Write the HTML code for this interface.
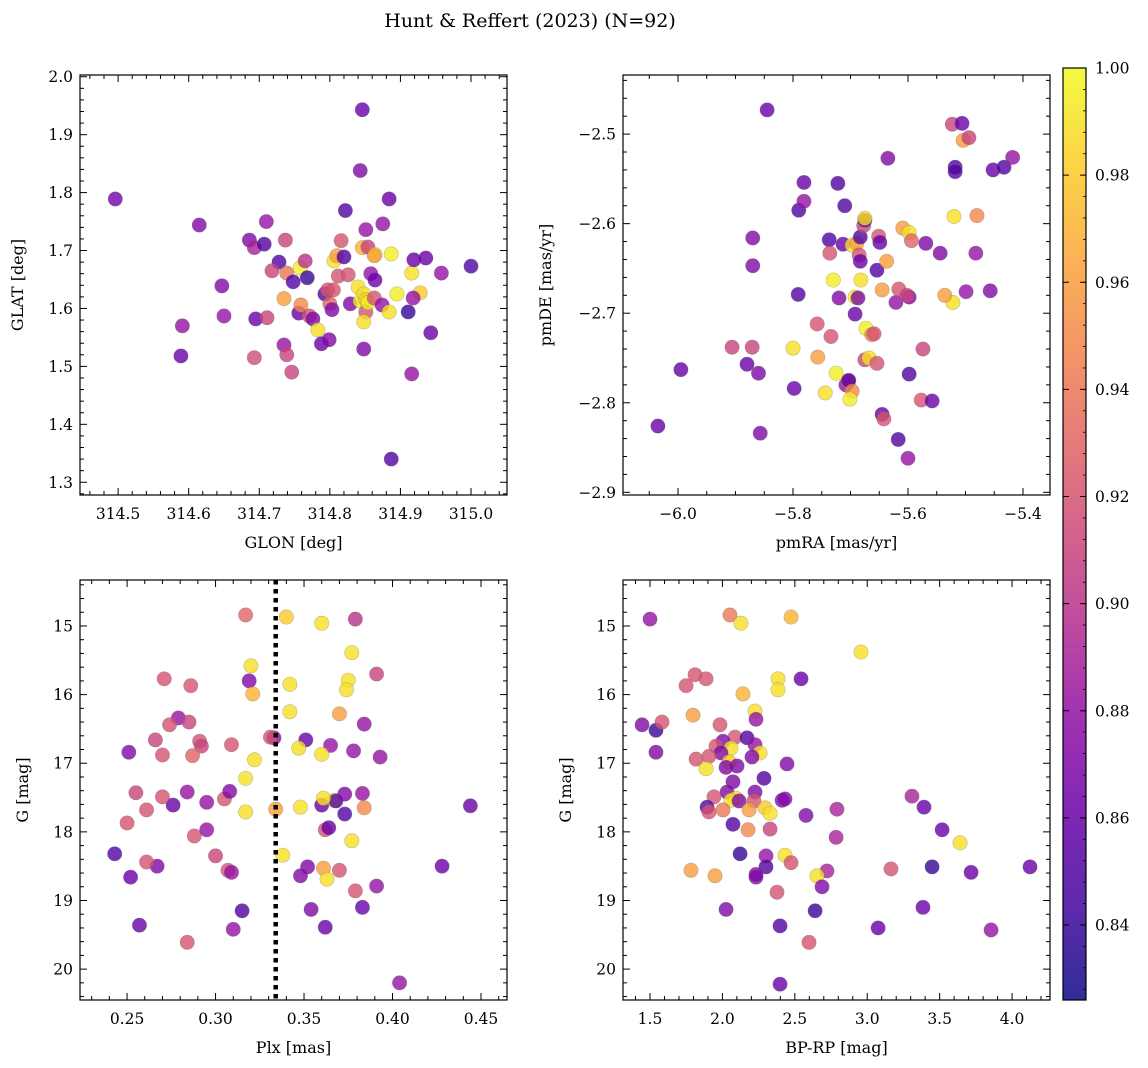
<!DOCTYPE html>
<html><head><meta charset="utf-8">
<style>
html,body{margin:0;padding:0;background:#fff;}
svg{display:block;font-family:"DejaVu Serif","Liberation Serif",serif;}
</style></head>
<body>
<svg id="fig" width="1148" height="1068" viewBox="0 0 1148 1068" xmlns="http://www.w3.org/2000/svg">
<defs>
<linearGradient id="plasma" x1="0" y1="1" x2="0" y2="0">
<stop offset="0" stop-color="#0d0887"/><stop offset="0.1" stop-color="#41049d"/><stop offset="0.2" stop-color="#6a00a8"/><stop offset="0.3" stop-color="#8f0da4"/><stop offset="0.4" stop-color="#b12a90"/><stop offset="0.5" stop-color="#cc4778"/><stop offset="0.6" stop-color="#e16462"/><stop offset="0.7" stop-color="#f2844b"/><stop offset="0.8" stop-color="#fca636"/><stop offset="0.9" stop-color="#fcce25"/><stop offset="1" stop-color="#f0f921"/>
</linearGradient>
</defs>
<text x="530" y="27" font-size="19" text-anchor="middle">Hunt &amp; Reffert (2023) (N=92)</text>
</svg>
<script>
// ---- Panel 1: GLON vs GLAT ----
const p1Lon=[314.496,314.615,314.647,314.650,314.591,314.589,314.686,314.710,314.693,314.707,314.728,314.718,314.737,314.739,314.735,314.695,314.693,314.711,314.735,314.739,314.746,314.748,314.758,314.765,314.756,314.759,314.768,314.771,314.776,314.783,314.788,314.799,314.793,314.797,314.800,314.806,314.810,314.812,314.805,314.803,314.820,314.816,314.822,314.826,314.829,314.840,314.846,314.843,314.848,314.851,314.851,314.848,314.854,314.846,314.843,314.851,314.854,314.864,314.858,314.864,314.863,314.863,314.848,314.875,314.874,314.884,314.887,314.887,314.884,314.895,314.911,314.916,314.919,314.928,314.918,314.916,314.936,314.943,314.958,315.000];
const p1Lat=[1.789,1.744,1.639,1.587,1.570,1.518,1.718,1.750,1.705,1.711,1.680,1.665,1.718,1.661,1.617,1.582,1.515,1.584,1.537,1.520,1.490,1.646,1.670,1.682,1.592,1.606,1.653,1.587,1.582,1.563,1.539,1.546,1.625,1.632,1.608,1.682,1.691,1.656,1.632,1.598,1.689,1.717,1.769,1.658,1.608,1.637,1.705,1.613,1.625,1.615,1.594,1.577,1.610,1.943,1.838,1.736,1.706,1.693,1.660,1.649,1.618,1.691,1.530,1.746,1.606,1.789,1.694,1.340,1.594,1.625,1.594,1.661,1.684,1.627,1.618,1.487,1.687,1.558,1.661,1.673];
const p1Prob=[.865,.87,.87,.88,.88,.86,.87,.88,.89,.85,.85,.91,.91,.94,.96,.86,.915,.91,.88,.91,.91,.85,.995,.90,.86,.95,.84,.92,.87,.99,.86,.87,.85,.92,.93,.99,.96,.92,.92,.87,.85,.92,.85,.92,.87,.99,.97,.995,.99,.98,.92,.99,.995,.86,.87,.88,.91,.99,.88,.86,.92,.96,.87,.88,.88,.86,.995,.85,.99,.995,.84,.99,.86,.98,.88,.88,.86,.86,.88,.85];
// ---- Panel 2: pmRA vs pmDE ----
const p2RA=[-5.845,-6.035,-5.995,-5.906,-5.871,-5.870,-5.870,-5.860,-5.880,-5.857,-5.800,-5.798,-5.781,-5.790,-5.781,-5.791,-5.758,-5.757,-5.744,-5.737,-5.736,-5.734,-5.730,-5.722,-5.725,-5.720,-5.713,-5.710,-5.708,-5.704,-5.703,-5.697,-5.701,-5.692,-5.692,-5.697,-5.689,-5.683,-5.685,-5.683,-5.682,-5.687,-5.677,-5.675,-5.675,-5.675,-5.668,-5.673,-5.663,-5.659,-5.654,-5.654,-5.651,-5.649,-5.645,-5.645,-5.642,-5.635,-5.637,-5.621,-5.617,-5.616,-5.609,-5.598,-5.598,-5.594,-5.602,-5.600,-5.598,-5.569,-5.577,-5.574,-5.544,-5.558,-5.523,-5.520,-5.518,-5.518,-5.522,-5.536,-5.506,-5.504,-5.494,-5.499,-5.480,-5.482,-5.452,-5.457,-5.433,-5.418];
const p2DE=[-2.473,-2.826,-2.763,-2.738,-2.738,-2.616,-2.647,-2.767,-2.757,-2.834,-2.739,-2.784,-2.554,-2.585,-2.575,-2.679,-2.712,-2.749,-2.789,-2.618,-2.633,-2.726,-2.663,-2.555,-2.767,-2.683,-2.623,-2.580,-2.780,-2.776,-2.775,-2.787,-2.796,-2.682,-2.701,-2.624,-2.622,-2.615,-2.635,-2.642,-2.663,-2.683,-2.602,-2.596,-2.594,-2.752,-2.750,-2.717,-2.724,-2.723,-2.756,-2.652,-2.614,-2.621,-2.674,-2.813,-2.818,-2.527,-2.642,-2.688,-2.841,-2.673,-2.605,-2.682,-2.610,-2.619,-2.680,-2.862,-2.768,-2.622,-2.797,-2.740,-2.633,-2.798,-2.489,-2.592,-2.537,-2.542,-2.688,-2.680,-2.488,-2.507,-2.504,-2.676,-2.591,-2.633,-2.540,-2.675,-2.537,-2.526];
const p2Prob=[.86,.86,.86,.91,.91,.87,.87,.87,.86,.87,.99,.86,.86,.85,.88,.85,.92,.96,.99,.85,.92,.92,.995,.85,.995,.87,.86,.85,.88,.92,.85,.95,.995,.995,.86,.99,.96,.85,.92,.86,.99,.87,.91,.85,.99,.91,.99,.995,.95,.92,.92,.85,.92,.86,.96,.86,.92,.87,.96,.88,.85,.92,.96,.87,.99,.93,.91,.88,.85,.87,.92,.91,.87,.86,.91,.99,.85,.85,.99,.96,.86,.96,.91,.88,.95,.88,.86,.87,.85,.88];
// ---- Panel 3: Plx vs G ----
const p3Plx=[0.317,0.340,0.360,0.379,0.320,0.319,0.321,0.271,0.286,0.377,0.375,0.374,0.391,0.342,0.342,0.370,0.279,0.274,0.285,0.384,0.333,0.331,0.351,0.347,0.309,0.291,0.292,0.266,0.251,0.270,0.287,0.365,0.360,0.378,0.393,0.322,0.255,0.284,0.276,0.270,0.261,0.295,0.305,0.317,0.317,0.308,0.334,0.348,0.360,0.367,0.368,0.361,0.373,0.383,0.373,0.384,0.362,0.364,0.377,0.288,0.295,0.250,0.338,0.352,0.348,0.361,0.363,0.370,0.391,0.379,0.383,0.354,0.243,0.252,0.267,0.261,0.300,0.307,0.309,0.428,0.315,0.310,0.257,0.284,0.362,0.404,0.444];
const p3G=[14.84,14.87,14.96,14.90,15.58,15.80,15.99,15.77,15.87,15.39,15.79,15.93,15.70,15.85,16.25,16.28,16.34,16.44,16.40,16.43,16.63,16.62,16.66,16.78,16.73,16.68,16.75,16.66,16.84,16.88,16.89,16.74,16.87,16.82,16.91,16.95,17.43,17.42,17.61,17.49,17.68,17.57,17.52,17.22,17.71,17.41,17.67,17.64,17.61,17.54,17.55,17.51,17.45,17.44,17.74,17.65,17.97,17.94,18.13,18.06,17.97,17.87,18.34,18.51,18.64,18.53,18.69,18.56,18.79,18.86,19.10,19.13,18.32,18.66,18.50,18.44,18.35,18.56,18.59,18.50,19.15,19.42,19.36,19.61,19.39,20.20,17.62];
const p3Prob=[.93,.98,.99,.90,.99,.87,.97,.92,.92,.99,.99,.99,.91,.99,.99,.96,.88,.92,.91,.88,.87,.92,.86,.99,.92,.92,.91,.91,.87,.92,.93,.88,.99,.88,.88,.99,.91,.88,.86,.92,.92,.88,.92,.99,.99,.87,.96,.99,.86,.99,.85,.99,.87,.88,.85,.95,.92,.86,.99,.92,.88,.92,.99,.87,.87,.96,.99,.92,.88,.92,.86,.87,.85,.86,.87,.92,.91,.92,.88,.86,.85,.88,.86,.92,.86,.88,.86];
const p3Cut=[0.334];
// ---- Panel 4: BP-RP vs G ----
const p4Col=[1.500,2.052,2.128,2.474,1.811,1.749,1.887,2.384,2.384,2.543,2.142,2.225,2.232,1.445,1.541,1.583,1.797,1.541,1.983,2.087,2.170,2.004,1.956,2.059,2.225,2.260,2.204,1.990,1.818,1.907,2.046,2.101,2.025,1.887,2.446,2.287,2.073,2.032,2.225,1.942,2.094,2.059,2.115,2.218,2.412,2.432,1.894,1.907,2.004,2.184,2.294,2.329,2.577,2.791,2.073,2.177,2.329,2.785,2.122,2.301,2.432,2.474,2.301,1.783,1.949,2.232,2.232,2.722,2.653,2.688,2.377,2.025,2.640,2.398,2.598,2.398,2.957,3.309,3.392,3.517,3.641,3.164,3.448,3.717,4.124,3.385,3.075,3.855];
const p4G=[14.90,14.84,14.96,14.87,15.71,15.87,15.77,15.77,15.93,15.77,15.99,16.24,16.36,16.44,16.52,16.40,16.30,16.84,16.44,16.62,16.63,16.68,16.75,16.78,16.73,16.85,16.91,16.85,16.94,16.90,16.98,17.04,17.06,17.08,17.01,17.22,17.27,17.42,17.42,17.49,17.51,17.54,17.55,17.55,17.54,17.52,17.64,17.71,17.68,17.68,17.65,17.73,17.76,17.67,17.89,17.97,17.96,18.08,18.32,18.35,18.34,18.45,18.51,18.56,18.64,18.62,18.66,18.57,18.64,18.80,18.88,19.13,19.15,19.37,19.61,20.22,15.38,17.48,17.64,17.97,18.16,18.54,18.51,18.59,18.51,19.10,19.40,19.43];
const p4Prob=[.88,.94,.99,.97,.92,.92,.92,.99,.99,.86,.97,.99,.88,.87,.84,.92,.96,.87,.92,.92,.85,.87,.92,.99,.88,.99,.87,.87,.92,.92,.98,.87,.87,.99,.87,.85,.87,.87,.87,.92,.99,.99,.87,.92,.87,.87,.85,.92,.94,.96,.98,.99,.87,.89,.85,.95,.91,.89,.84,.88,.99,.92,.85,.96,.96,.87,.87,.89,.99,.87,.92,.87,.84,.85,.92,.86,.99,.89,.86,.86,.99,.92,.84,.86,.86,.86,.86,.88];
// ---- Colorbar ----
const cbTicks=[0.84,0.86,0.88,0.90,0.92,0.94,0.96,0.98,1.00];
const cbMin=0.826, cbMax=1.0;

const svg=document.getElementById('fig');
const NS='http://www.w3.org/2000/svg';
function mk(tag,attrs,parent){const e=document.createElementNS(NS,tag);for(const k in attrs)e.setAttribute(k,attrs[k]);(parent||svg).appendChild(e);return e;}
const stops=[[13,8,135],[65,4,157],[106,0,168],[143,13,164],[177,42,144],[204,71,120],[225,100,98],[242,132,75],[252,166,54],[252,206,37],[240,249,33]];
function plasma(p){let t=(p-cbMin)/(cbMax-cbMin);t=Math.max(0,Math.min(1,t))*10;const i=Math.min(9,Math.floor(t)),f=t-i;const a=stops[i],b=stops[i+1];return 'rgb('+[0,1,2].map(k=>Math.round(a[k]+(b[k]-a[k])*f)).join(',')+')';}
function fmt(v,d){const s=Math.abs(v).toFixed(d);return v<-1e-9?'\u2212'+s:s;}

function panel(o){
  const g=mk('g',{});
  
  
  const X=v=>o.x0+(v-o.xmin)/(o.xmax-o.xmin)*(o.x1-o.x0);
  const Y=o.yinv?(v=>o.y0+(v-o.ymin)/(o.ymax-o.ymin)*(o.y1-o.y0)):(v=>o.y1-(v-o.ymin)/(o.ymax-o.ymin)*(o.y1-o.y0));
  const pg=mk('g',{},g);
  
  
  for(let i=0;i<o.xs.length;i++){
    const c=mk('circle',{cx:X(o.xs[i]),cy:Y(o.ys[i]),r:7.2,fill:plasma(o.ps[i]),'fill-opacity':0.8,stroke:'#666','stroke-opacity':0.4,'stroke-width':0.6},pg);
    
    
  }
  if(o.vline){for(const v of o.vline){const l=mk('line',{x1:X(v),x2:X(v),y1:o.y0,y2:o.y1,stroke:'#000','stroke-width':4.5,'stroke-dasharray':'4.5 4.5'},g);
    
    }}
  const fr=mk('rect',{x:o.x0,y:o.y0,width:o.x1-o.x0,height:o.y1-o.y0,fill:'none',stroke:'#000','stroke-width':1.2},g);
  
  
  const eps=1e-9;
  for(let k=Math.ceil(o.xmin/o.xminor-eps);k*o.xminor<=o.xmax+eps;k++){
    const v=k*o.xminor;const isMaj=Math.abs(v/o.xmajor-Math.round(v/o.xmajor))<1e-6;const L=isMaj?7:4;const px=X(v);
    mk('line',{x1:px,x2:px,y1:o.y1,y2:o.y1-L,stroke:'#000','stroke-width':1},g);
    mk('line',{x1:px,x2:px,y1:o.y0,y2:o.y0+L,stroke:'#000','stroke-width':1},g);
    if(isMaj){const t=mk('text',{x:px,y:o.y1+24,'font-size':15.5,'text-anchor':'middle'},g);t.textContent=fmt(v,o.xdec);
      
      }
  }
  for(let k=Math.ceil(o.ymin/o.yminor-eps);k*o.yminor<=o.ymax+eps;k++){
    const v=k*o.yminor;const isMaj=Math.abs(v/o.ymajor-Math.round(v/o.ymajor))<1e-6;const L=isMaj?7:4;const py=Y(v);
    mk('line',{x1:o.x0,x2:o.x0+L,y1:py,y2:py,stroke:'#000','stroke-width':1},g);
    mk('line',{x1:o.x1,x2:o.x1-L,y1:py,y2:py,stroke:'#000','stroke-width':1},g);
    if(isMaj){const t=mk('text',{x:o.x0-7,y:py+5.5,'font-size':15.5,'text-anchor':'end'},g);t.textContent=fmt(v,o.ydec);
      
      }
  }
  const xl=mk('text',{x:(o.x0+o.x1)/2,y:o.y1+53,'font-size':16,'text-anchor':'middle'},g);xl.textContent=o.xlabel;
  
  
  const yx=o.ylx, yy=(o.y0+o.y1)/2;
  const yl=mk('text',{x:yx,y:yy,'font-size':16,'text-anchor':'middle',transform:'rotate(-90 '+yx+' '+yy+')'},g);yl.textContent=o.ylabel;
  
  
}
panel({name:'glon-glat-panel',x0:80,x1:507,y0:75,y1:495,xmin:314.446,xmax:315.051,ymin:1.278,ymax:2.003,xmajor:0.1,xminor:0.02,ymajor:0.1,yminor:0.02,xdec:1,ydec:1,xs:p1Lon,ys:p1Lat,ps:p1Prob,xlabel:'GLON [deg]',ylabel:'GLAT [deg]',ylx:23});
panel({name:'pm-panel',x0:623,x1:1050,y0:75,y1:495,xmin:-6.0957,xmax:-5.353,ymin:-2.903,ymax:-2.434,xmajor:0.2,xminor:0.05,ymajor:0.1,yminor:0.02,xdec:1,ydec:1,xs:p2RA,ys:p2DE,ps:p2Prob,xlabel:'pmRA [mas/yr]',ylabel:'pmDE [mas/yr]',ylx:551});
panel({name:'plx-g-panel',x0:80,x1:507,y0:580,y1:1000,xmin:0.2234,xmax:0.4647,ymin:14.33,ymax:20.45,yinv:true,xmajor:0.05,xminor:0.01,ymajor:1,yminor:0.2,xdec:2,ydec:0,xs:p3Plx,ys:p3G,ps:p3Prob,vline:p3Cut,xlabel:'Plx [mas]',ylabel:'G [mag]',ylx:28});
panel({name:'cmd-panel',x0:623,x1:1050,y0:580,y1:1000,xmin:1.3135,xmax:4.262,ymin:14.33,ymax:20.45,yinv:true,xmajor:0.5,xminor:0.1,ymajor:1,yminor:0.2,xdec:1,ydec:0,xs:p4Col,ys:p4G,ps:p4Prob,xlabel:'BP-RP [mag]',ylabel:'G [mag]',ylx:571});

const cb=mk('g',{});


const cx0=1063,cx1=1086,cy0=68,cy1=1000;
const CY=v=>cy1-(v-cbMin)/(cbMax-cbMin)*(cy1-cy0);
mk('rect',{x:cx0,y:cy0,width:cx1-cx0,height:cy1-cy0,fill:'url(#plasma)','fill-opacity':0.85,stroke:'#000','stroke-width':1.2},cb);
for(let k=Math.ceil(cbMin/0.004-1e-9);k*0.004<=cbMax+1e-9;k++){
  const v=k*0.004;const py=CY(v);
  mk('line',{x1:cx1,x2:cx1-3,y1:py,y2:py,stroke:'#000','stroke-width':0.8},cb);
}
for(const v of cbTicks){const py=CY(v);
  mk('line',{x1:cx1,x2:cx1-6,y1:py,y2:py,stroke:'#000','stroke-width':1},cb);
  mk('line',{x1:cx0,x2:cx0+6,y1:py,y2:py,stroke:'#000','stroke-width':1},cb);
  const t=mk('text',{x:cx1+9,y:py+5.5,'font-size':15.5},cb);t.textContent=v.toFixed(2);
  
  
}
</script>
</body></html>
